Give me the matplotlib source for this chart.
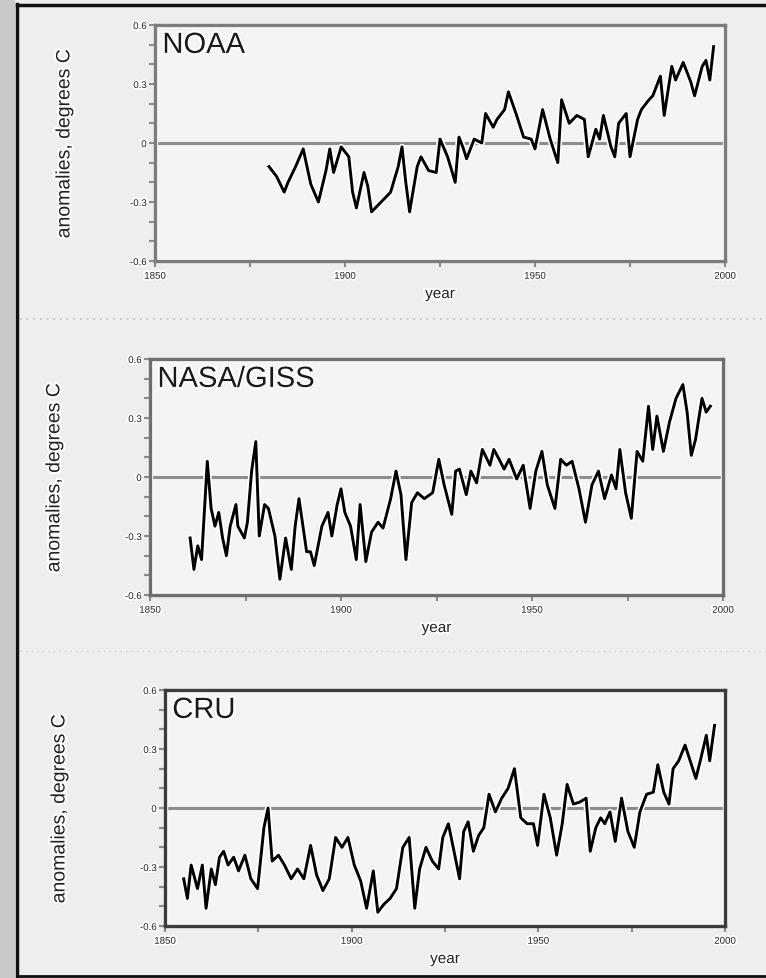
import matplotlib
matplotlib.use("Agg")
import matplotlib.pyplot as plt
import matplotlib.patheffects as pe
from matplotlib.lines import Line2D
from matplotlib.patches import Rectangle

plt.rcParams['font.family'] = ['Liberation Sans', 'DejaVu Sans']
plt.rcParams['axes.unicode_minus'] = False

# values (anomalies, degrees C)
noaa_years = [1880, 1882, 1884, 1885, 1887, 1889, 1891, 1893, 1895, 1896, 1897, 1899,
              1901, 1902, 1903, 1905, 1906, 1907, 1909, 1912, 1914, 1915, 1916, 1917,
              1919, 1920, 1922, 1924, 1925, 1927, 1929, 1930, 1931, 1932, 1934, 1936,
              1937, 1939, 1940, 1942, 1943, 1945, 1947, 1949, 1950, 1952, 1954, 1956,
              1957, 1959, 1961, 1963, 1964, 1966, 1967, 1968, 1970, 1971, 1972, 1974,
              1975, 1977, 1978, 1980, 1981, 1983, 1984, 1986, 1987, 1989, 1991, 1992,
              1994, 1995, 1996, 1997]
noaa_vals = [-0.12, -0.17, -0.25, -0.20, -0.12, -0.03, -0.21, -0.30, -0.14, -0.03, -0.15, -0.02,
             -0.07, -0.25, -0.33, -0.15, -0.22, -0.35, -0.31, -0.25, -0.12, -0.02, -0.20, -0.35,
             -0.12, -0.07, -0.14, -0.15, 0.02, -0.07, -0.20, 0.03, -0.02, -0.08, 0.02, 0.00,
             0.15, 0.08, 0.12, 0.17, 0.26, 0.15, 0.03, 0.02, -0.03, 0.17, 0.02, -0.10,
             0.22, 0.10, 0.14, 0.12, -0.07, 0.07, 0.02, 0.14, -0.02, -0.07, 0.10, 0.15,
             -0.07, 0.12, 0.17, 0.22, 0.24, 0.34, 0.14, 0.39, 0.32, 0.41, 0.31, 0.24,
             0.39, 0.42, 0.32, 0.49]

giss_years = [1860.5, 1861.5, 1862.5, 1863.5, 1865, 1866, 1867, 1868, 1869, 1870, 1871, 1872.5,
              1873, 1874.7, 1875.5, 1876.6, 1877.7, 1878.6, 1880, 1881, 1882.7, 1884, 1885.5, 1887,
              1888, 1889, 1891, 1892, 1893, 1895, 1896.6, 1897.6, 1899, 1900, 1901, 1902.5,
              1904, 1905, 1906.5, 1908, 1909.7, 1911, 1913, 1914.4, 1915.7, 1917, 1918.5, 1920,
              1921.8, 1924, 1925.6, 1927, 1929, 1930, 1931, 1932.8, 1934, 1935.5, 1937, 1939,
              1940, 1941.4, 1942.7, 1944, 1946, 1947.7, 1949.5, 1951, 1952.6, 1954, 1956, 1957.5,
              1959, 1960.5, 1962.3, 1964, 1965.7, 1967.4, 1969, 1970.8, 1972, 1973, 1974.5, 1976,
              1977.5, 1979, 1980.5, 1981.6, 1982.7, 1984.4, 1986, 1987.7, 1989.5, 1990.6, 1991.7, 1992.8,
              1994.5, 1995.6, 1996.7]
giss_vals = [-0.31, -0.47, -0.35, -0.42, 0.08, -0.16, -0.25, -0.18, -0.31, -0.40, -0.25, -0.14,
             -0.25, -0.31, -0.23, 0.03, 0.18, -0.30, -0.14, -0.16, -0.30, -0.52, -0.31, -0.47,
             -0.25, -0.11, -0.38, -0.38, -0.45, -0.25, -0.18, -0.30, -0.14, -0.06, -0.18, -0.25,
             -0.42, -0.14, -0.43, -0.28, -0.23, -0.26, -0.11, 0.03, -0.09, -0.42, -0.13, -0.08,
             -0.11, -0.08, 0.09, -0.04, -0.19, 0.03, 0.04, -0.09, 0.03, -0.03, 0.14, 0.06,
             0.14, 0.09, 0.04, 0.09, -0.01, 0.06, -0.16, 0.03, 0.13, -0.04, -0.16, 0.09,
             0.06, 0.08, -0.06, -0.23, -0.04, 0.03, -0.11, 0.01, -0.06, 0.14, -0.08, -0.21,
             0.13, 0.08, 0.36, 0.14, 0.31, 0.13, 0.28, 0.40, 0.47, 0.33, 0.11, 0.19,
             0.40, 0.33, 0.36]

cru_years = [1855, 1856, 1857, 1858.7, 1860, 1861, 1862.4, 1863.5, 1864.6, 1865.7, 1866.9, 1868.4,
             1869.7, 1871.4, 1873, 1874.8, 1876.5, 1877.6, 1878.7, 1880.4, 1882, 1883.8, 1885.5, 1887.2,
             1889, 1890.6, 1892.3, 1894, 1895.7, 1897.4, 1899, 1900.7, 1902.4, 1904, 1905.8, 1907,
             1908.6, 1910.3, 1912, 1913.7, 1915.4, 1916.9, 1918.2, 1919.9, 1921.6, 1923.3, 1924.4, 1925.9,
             1927.2, 1928.9, 1930, 1931.2, 1932.6, 1934, 1935.4, 1936.8, 1938.5, 1940.2, 1941.9, 1943.6,
             1945.3, 1947, 1948.7, 1949.8, 1951.5, 1953.2, 1954.9, 1956.4, 1957.7, 1959.4, 1961.1, 1962.8,
             1963.9, 1965.4, 1966.7, 1967.8, 1969.2, 1970.6, 1972.3, 1974, 1975.7, 1977.2, 1979, 1980.8,
             1982, 1983.6, 1985, 1986.1, 1987.6, 1989.3, 1990.5, 1992.2, 1993.5, 1995, 1995.9, 1997.2]
cru_vals = [-0.36, -0.46, -0.29, -0.41, -0.29, -0.51, -0.31, -0.39, -0.25, -0.22, -0.29, -0.25,
            -0.32, -0.24, -0.36, -0.41, -0.10, 0.00, -0.27, -0.24, -0.29, -0.36, -0.31, -0.36,
            -0.19, -0.34, -0.42, -0.36, -0.15, -0.20, -0.15, -0.29, -0.37, -0.51, -0.32, -0.53,
            -0.49, -0.46, -0.41, -0.20, -0.15, -0.51, -0.31, -0.20, -0.27, -0.31, -0.15, -0.08,
            -0.20, -0.36, -0.12, -0.07, -0.22, -0.14, -0.10, 0.07, -0.02, 0.05, 0.10, 0.20,
            -0.05, -0.08, -0.08, -0.19, 0.07, -0.05, -0.24, -0.08, 0.12, 0.02, 0.03, 0.05,
            -0.22, -0.10, -0.05, -0.08, -0.02, -0.17, 0.05, -0.12, -0.20, -0.02, 0.07, 0.08,
            0.22, 0.08, 0.02, 0.20, 0.24, 0.32, 0.25, 0.15, 0.25, 0.37, 0.24, 0.42]

panel_names = ["NOAA", "NASA/GISS", "CRU"]
ytick_vals = [-0.6, -0.3, 0, 0.3, 0.6]
ytick_labels = ["-0.6", "-0.3", "0", "0.3", "0.6"]
xtick_vals = [1850, 1900, 1950, 2000]
xtick_labels = ["1850", "1900", "1950", "2000"]

W, H = 766, 979
BG = "#eeeeee"


def px_rect(left, top, right, bottom):
    return [left / W, 1 - bottom / H, (right - left) / W, (bottom - top) / H]


def draw_panel(ax, years, vals, name, spine_col, ylab_x):
    ax.set_facecolor("#f4f4f4")
    ax.set_xlim(1850, 2000)
    ax.set_ylim(-0.6, 0.6)
    ax.axhline(0, color="#8c8c8c", lw=2.2, zorder=1)
    ax.plot(years, vals, color="black", lw=2.1, zorder=3, solid_joinstyle="round",
            path_effects=[pe.Stroke(linewidth=4.5, foreground="white", joinstyle="round"),
                          pe.Normal()])
    # thin white line inside the frame
    ax.add_patch(Rectangle((0.004, 0.01), 0.992, 0.98, transform=ax.transAxes,
                           fill=False, ec="white", lw=1.0, zorder=2))
    for s in ax.spines.values():
        s.set_color(spine_col)
        s.set_linewidth(2.4)
    ax.set_yticks(ytick_vals)
    ax.set_yticklabels(ytick_labels)
    ax.set_yticks([-0.5, -0.4, -0.2, -0.1, 0.1, 0.2, 0.4, 0.5], minor=True)
    ax.set_xticks(xtick_vals)
    ax.set_xticklabels(xtick_labels)
    ax.set_xticks([1875, 1925, 1975], minor=True)
    ax.tick_params(which="both", direction="out", length=4, width=1.5, color="#8a8a8a",
                   labelsize=7, labelcolor="#222222")
    ax.tick_params(axis="x", which="both", pad=3)
    ax.tick_params(axis="y", which="both", pad=2)
    for lab in ax.get_xticklabels() + ax.get_yticklabels():
        lab.set_path_effects([pe.withStroke(linewidth=2.5, foreground="white")])
    halo = [pe.withStroke(linewidth=3, foreground="white")]
    ax.set_ylabel("anomalies, degrees C", fontsize=14, color="#222222", va="center",
                  path_effects=halo)
    ax.yaxis.set_label_coords(ylab_x, 0.5)
    ax.set_xlabel("year", fontsize=11, color="#222222", va="center", path_effects=halo)
    ax.xaxis.set_label_coords(0.5, -0.14)
    ax.text(0.013, 0.975, name, transform=ax.transAxes, ha="left", va="top",
            fontsize=21, color="#1a1a1a", zorder=4, path_effects=halo)


fig = plt.figure(figsize=(W / 100, H / 100), dpi=100, facecolor=BG)

# shadow strip and black frame around the page
fig.add_artist(Rectangle((0, 0), 15 / W, 1, transform=fig.transFigure,
                         color="#c9c9c9", lw=0))
fig.add_artist(Line2D([17 / W, 17 / W], [0, 1 - 5 / H], transform=fig.transFigure,
                      color="#111111", lw=2.5))
fig.add_artist(Line2D([17 / W, 1], [1 - 6 / H, 1 - 6 / H], transform=fig.transFigure,
                      color="#111111", lw=2.5))
fig.add_artist(Line2D([17 / W, 1], [1 - 977 / H, 1 - 977 / H], transform=fig.transFigure,
                      color="#111111", lw=2.0))
# dotted separators between panels
fig.add_artist(Line2D([20 / W, 1], [1 - 320 / H, 1 - 320 / H], transform=fig.transFigure,
                      color="#bdbdbd", lw=1.2, ls=(0, (1, 3))))
fig.add_artist(Line2D([20 / W, 1], [1 - 652 / H, 1 - 652 / H], transform=fig.transFigure,
                      color="#d0d0d0", lw=1.0, ls=(0, (1, 3))))

ax1 = fig.add_axes(px_rect(155, 26, 725, 262))
ax2 = fig.add_axes(px_rect(150, 360, 723, 596))
ax3 = fig.add_axes(px_rect(165, 691, 725, 927))

draw_panel(ax1, noaa_years, noaa_vals, panel_names[0], "#7c7c7c", -0.158)
draw_panel(ax2, giss_years, giss_vals, panel_names[1], "#6e6e6e", -0.166)
draw_panel(ax3, cru_years, cru_vals, panel_names[2], "#3c3c3c", -0.1875)

fig.savefig("out.png", dpi=100, facecolor=BG)
plt.close(fig)
